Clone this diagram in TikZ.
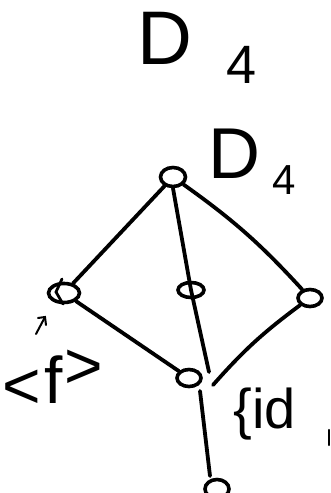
\documentclass[tikz,border=0pt]{standalone}
\usepackage{fontspec}
\setmainfont{Liberation Sans}
\usetikzlibrary{shapes.geometric}
\tikzset{
  grp/.style={ellipse, draw, line width=3.6pt, inner sep=0pt},
  edge/.style={line width=3.8pt, line cap=round},
  lbl/.style={inner sep=0pt, anchor=center},
  big/.style={lbl, font=\fontsize{66}{70}\selectfont}
}
\begin{document}
\begin{tikzpicture}[x=1pt,y=-1pt]
\useasboundingbox (0,0) rectangle (330,493);
% title
\node[lbl] (tD) at (165,38) {\fontsize{76}{80}\selectfont D};
\node[lbl] (t4) at (242,65) {\fontsize{54}{58}\selectfont 4};
% nodes
\node[grp, minimum width=25pt, minimum height=19pt] (top) at (173,177) {};
\node[grp, minimum width=31pt, minimum height=19pt] (left) at (64,293) {};
\node[grp, minimum width=26pt, minimum height=15pt] (mid) at (191,290) {};
\node[grp, minimum width=24pt, minimum height=17pt] (right) at (310,298) {};
\node[grp, minimum width=24pt, minimum height=17pt] (low) at (189,378) {};
\node[grp, minimum width=24pt, minimum height=19pt] (bot) at (217,489) {};
% labels
\node[lbl] (aD) at (234,154) {\fontsize{72}{76}\selectfont D};
\node[lbl] (a4) at (284,180) {\fontsize{42}{46}\selectfont 4};
\node[big] (ra) at (22,389) {<};
\node[big] (rf) at (54,380) {f};
\node[big] (rb) at (84,369) {>};
\node[lbl] (idl) at (265,414) {\fontsize{56}{60}\selectfont \{id};
% connectors
\coordinate (mend) at (209,372);
\coordinate (rend) at (213,385);
\coordinate (ltop) at (200,391);
\coordinate (lbot) at (210,476);
\draw[edge] (top) -- (left);
\draw[edge] (top.south) -- (mid.center) -- (mend);
\draw[edge] (top) to[bend left=6] (right);
\draw[edge] (left) -- (low);
\draw[edge] (right) to[bend right=6] (rend);
\draw[edge] (ltop) -- (lbot);
% extra strokes
\draw[edge, line width=2.8pt] (62,279) -- (56,292) -- (63,304);
\coordinate (as) at (36,334);
\coordinate (ae) at (45,317);
\draw[line width=2pt, line cap=round] (as) -- (ae);
\draw[line width=2pt, line cap=round] (38,318) -- (ae) -- (46,325);
\draw[line width=2.4pt, line cap=round] (329,430) -- (329,445);
\end{tikzpicture}
\end{document}
